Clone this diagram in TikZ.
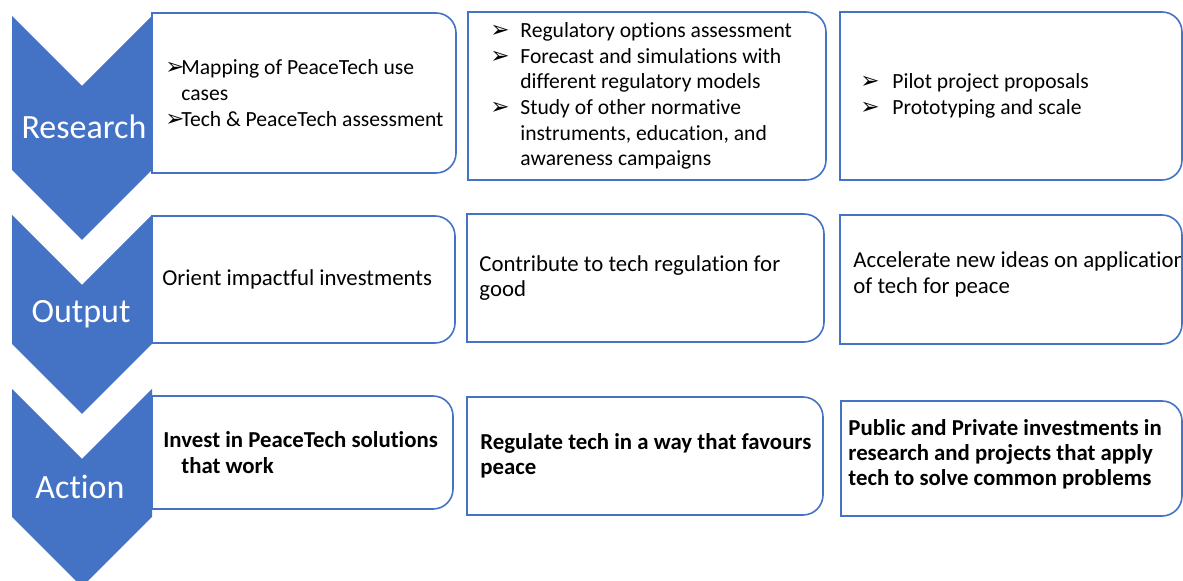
\documentclass[tikz,border=0pt]{standalone}
\usepackage{fontspec}
\setmainfont{Carlito}[Ligatures=NoCommon]
\newfontfamily\dingfont{DejaVu Sans}
\usetikzlibrary{positioning}
\definecolor{chevblue}{RGB}{68,114,196}

\newcommand{\arw}[1]{\makebox[#1][l]{\dingfont\fontsize{11.5}{10}\selectfont ➢}}
\newcommand{\tabline}[1]{%
  \draw[boxline] (#1.south west) -- (#1.north west) -- ([xshift=-10pt]#1.north east)
    arc[start angle=90, end angle=0, radius=10pt] -- ([yshift=10pt]#1.south east)
    arc[start angle=0, end angle=-90, radius=10pt] -- cycle;}

\begin{document}
\begin{tikzpicture}[
      x=0.5pt, y=-0.5pt,
      box/.style={draw=none, inner sep=0pt, outer sep=0pt},
      txt/.style={inner sep=0pt, align=left, font=\fontsize{10.8}{12.8}\selectfont},
      bigtxt/.style={txt, font=\fontsize{11.4}{12.6}\selectfont},
      boldtxt/.style={txt, font=\fontsize{11.4}{12.6}\selectfont\bfseries},
      boxline/.style={draw=chevblue, line width=0.8pt},
      chev/.style={fill=chevblue, draw=none},
      lbl/.style={text=white, font=\fontsize{17}{20}\selectfont}
    ]
      \useasboundingbox (0,0) rectangle (1183,581);

      \node[box, minimum width=152pt, minimum height=80pt] (b11) at (304,93) {};
      \node[box, minimum width=179pt, minimum height=84pt, right=6pt of b11, yshift=-1.5pt] (b12) {};
      \node[box, minimum width=171pt, minimum height=84pt, right=7pt of b12] (b13) {};

      \node[box, minimum width=151.5pt, minimum height=63.5pt] (b21) at (303.5,279.5) {};
      \node[box, minimum width=178.5pt, minimum height=64pt, right=6pt of b21, yshift=0.75pt] (b22) {};
      \node[box, minimum width=171pt, minimum height=64.5pt, right=8pt of b22, yshift=-0.75pt] (b23) {};

      \node[box, minimum width=150.5pt, minimum height=56.5pt] (b31) at (302.5,452.5) {};
      \node[box, minimum width=178pt, minimum height=59pt, right=7pt of b31, yshift=-1.75pt] (b32) {};
      \node[box, minimum width=170.5pt, minimum height=57.5pt, right=9pt of b32, yshift=-1.25pt] (b33) {};

      \node[txt, right=6.5pt of b11.west] (t11)
        {\arw{8pt}Mapping of PeaceTech use\\\hspace*{8pt}cases\\\arw{8pt}Tech \& PeaceTech assessment};
      \node[txt, right=11pt of b12.west] (t12)
        {\arw{15pt}Regulatory options assessment\\\arw{15pt}Forecast and simulations with\\\hspace*{15pt}different regulatory models\\\arw{15pt}Study of other normative\\\hspace*{15pt}instruments, education, and\\\hspace*{15pt}awareness campaigns};
      \node[txt, right=10pt of b13.west] (t13)
        {\arw{16pt}Pilot project proposals\\\arw{16pt}Prototyping and scale};

      \node[bigtxt, right=5pt of b21.west] (t21) {Orient impactful investments};
      \node[bigtxt, right=6pt of b22.west] (t22) {Contribute to tech regulation for\\good};
      \node[bigtxt, right=6.5pt of b23.west, yshift=2.5pt] (t23) {Accelerate new ideas on application\\of tech for peace};

      \node[boldtxt, right=5.5pt of b31.west] (t31) {Invest in PeaceTech solutions\\\hspace*{9pt}that work};
      \node[boldtxt, right=6.5pt of b32.west] (t32) {Regulate tech in a way that favours\\peace};
      \node[boldtxt, right=3.5pt of b33.west, yshift=2pt] (t33) {Public and Private investments in\\research and projects that apply\\tech to solve common problems};

      \tabline{b11} \tabline{b12} \tabline{b13}
      \tabline{b21} \tabline{b22} \tabline{b23}
      \tabline{b31} \tabline{b32} \tabline{b33}

      \fill[chev] (12,16) -- (82,86) -- (152,16) -- (152,170) -- (82,240) -- (12,170) -- cycle;
      \fill[chev] (12,215) -- (82,285) -- (152,215) -- (152,344) -- (82,414) -- (12,344) -- cycle;
      \fill[chev] (12,389) -- (82,459) -- (152,389) -- (152,517) -- (82,587) -- (12,517) -- cycle;

      \node[lbl] (lres) at (84,127) {Research};
      \node[lbl] (lout) at (81,314) {Output};
      \node[lbl] (lact) at (80,487) {Action};
    \end{tikzpicture}
\end{document}
